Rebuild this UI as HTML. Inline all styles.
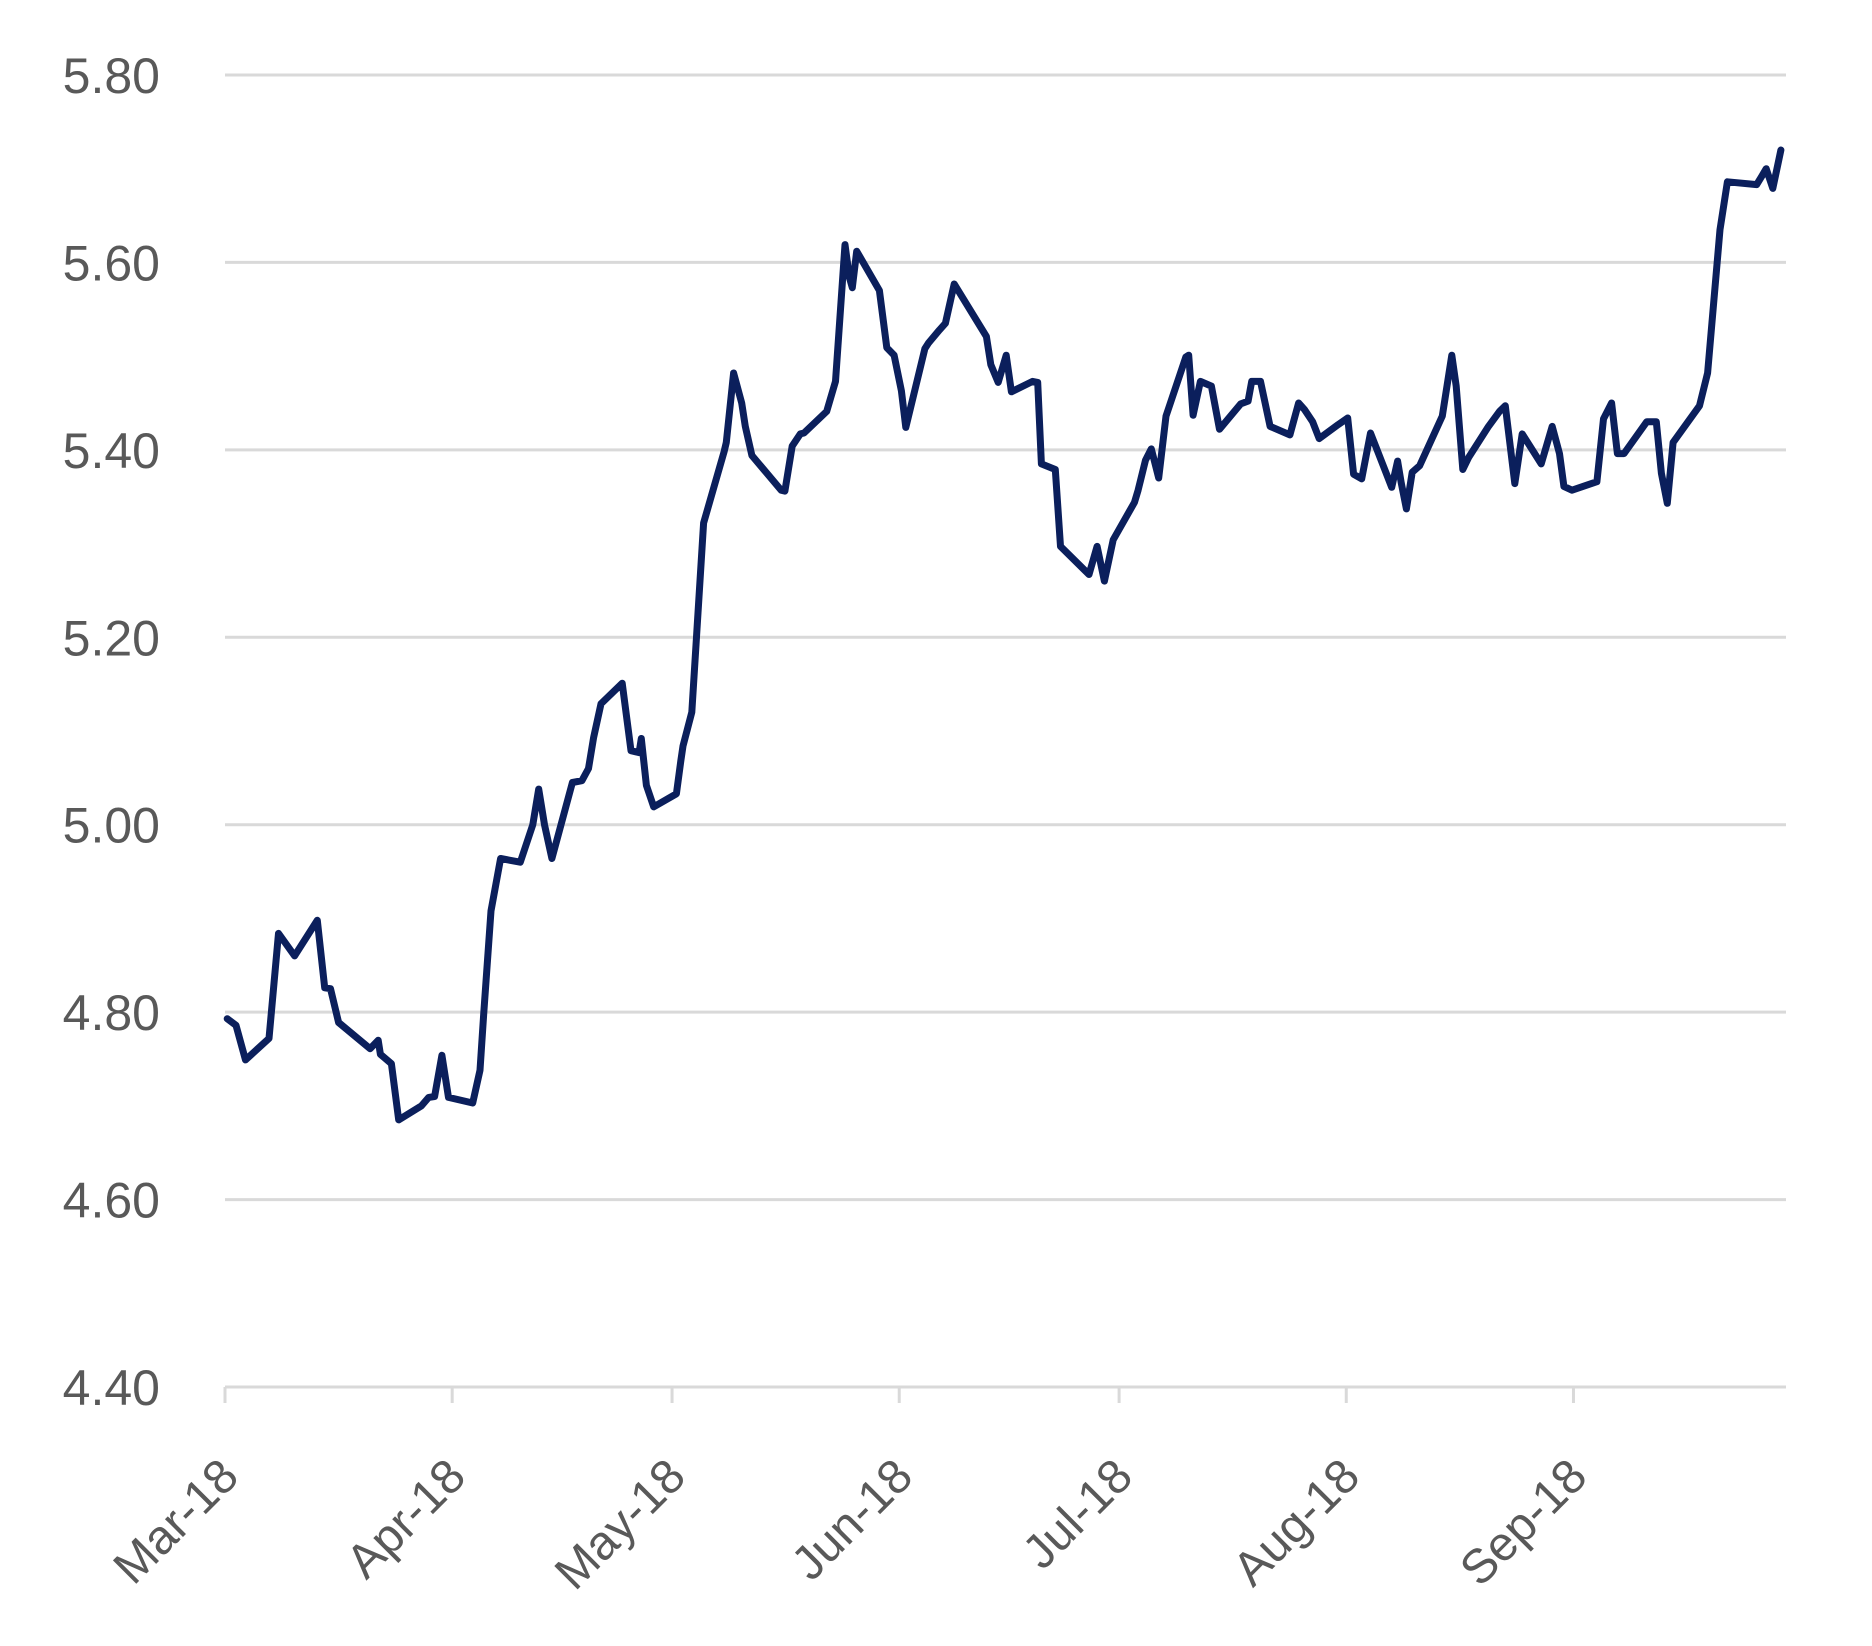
<!DOCTYPE html>
<html><head><meta charset="utf-8"><style>
html,body{margin:0;padding:0;background:#fff;}
svg{display:block;font-family:"Liberation Sans",sans-serif;}
</style></head><body>
<svg id="chart" width="1872" height="1646" viewBox="0 0 1872 1646" xmlns="http://www.w3.org/2000/svg">
<g id="grid"></g>
<g id="yaxis"></g>
<g id="xaxis"></g>
<g id="series"></g>
</svg>
<script>
const yTicks=[4.40,4.60,4.80,5.00,5.20,5.40,5.60,5.80];
const monthLabels=["Mar-18","Apr-18","May-18","Jun-18","Jul-18","Aug-18","Sep-18"];
const monthDays=[0,31,61,92,122,153,184];
const days=[0.3,1.5,2.8,6.0,6.7,7.3,9.5,12.6,13.6,14.4,15.5,19.8,20.9,21.2,22.7,23.7,26.8,27.8,28.6,29.6,30.5,33.8,34.8,35.3,36.3,37.6,40.3,42.0,42.8,43.6,44.6,47.4,48.7,49.6,50.3,51.3,54.2,55.4,56.5,56.8,57.5,58.5,61.6,62.2,62.5,63.7,65.3,68.1,68.4,69.4,70.5,71.0,71.9,75.9,76.4,77.4,78.5,79.0,82.1,83.3,84.6,85.2,85.6,86.2,89.3,90.3,91.3,92.3,92.9,95.5,96.0,97.5,98.3,99.5,99.9,103.9,104.5,105.5,106.6,107.3,110.2,110.9,111.4,113.3,114.0,117.9,119.0,120.0,121.2,124.1,124.6,125.6,126.4,127.4,128.4,131.1,131.5,132.1,133.1,134.6,135.7,138.6,139.6,140.1,141.3,142.6,145.3,146.5,147.3,148.4,149.3,151.9,153.2,154.0,155.1,156.3,158.2,159.2,160.0,160.5,161.2,162.0,163.0,166.1,167.4,168.0,168.9,169.7,172.4,173.9,174.7,176.0,177.0,179.6,181.1,182.1,182.7,183.8,187.2,188.1,189.2,190.0,190.9,194.0,195.3,196.0,196.8,197.6,201.2,202.3,204.0,205.0,209.0,209.7,210.3,211.2,212.3];
const values=[4.793,4.786,4.749,4.772,4.832,4.884,4.860,4.898,4.826,4.825,4.789,4.761,4.770,4.755,4.745,4.685,4.700,4.709,4.710,4.754,4.709,4.703,4.738,4.798,4.908,4.964,4.960,5.000,5.038,5.000,4.964,5.045,5.047,5.060,5.093,5.129,5.151,5.079,5.077,5.092,5.042,5.019,5.033,5.068,5.084,5.120,5.322,5.398,5.408,5.482,5.450,5.425,5.394,5.357,5.356,5.404,5.417,5.418,5.441,5.473,5.619,5.584,5.573,5.612,5.570,5.509,5.501,5.463,5.424,5.508,5.514,5.528,5.535,5.577,5.572,5.521,5.491,5.472,5.501,5.462,5.473,5.472,5.385,5.379,5.297,5.267,5.297,5.260,5.304,5.344,5.357,5.389,5.401,5.370,5.436,5.499,5.501,5.437,5.473,5.468,5.422,5.449,5.452,5.473,5.473,5.425,5.416,5.450,5.443,5.430,5.412,5.427,5.434,5.374,5.369,5.418,5.380,5.360,5.388,5.365,5.337,5.376,5.383,5.436,5.501,5.468,5.379,5.392,5.425,5.441,5.447,5.364,5.417,5.385,5.425,5.396,5.361,5.357,5.366,5.433,5.450,5.396,5.396,5.430,5.430,5.375,5.343,5.408,5.447,5.482,5.635,5.686,5.683,5.692,5.700,5.679,5.720];

const NS="http://www.w3.org/2000/svg";
const X0=225,X1=1786,Y0=1387,Y1=75,DMAX=213,VMIN=4.40,VMAX=5.80;
function xs(d){return X0+(d/DMAX)*(X1-X0);}
function ys(v){return Y0-(v-VMIN)/(VMAX-VMIN)*(Y0-Y1);}
function mk(tag,attrs,parent){const e=document.createElementNS(NS,tag);for(const k in attrs)e.setAttribute(k,attrs[k]);parent.appendChild(e);return e;}

const grid=document.getElementById('grid'),yax=document.getElementById('yaxis'),xax=document.getElementById('xaxis'),ser=document.getElementById('series');
yTicks.forEach(v=>{
  const l=mk('line',{x1:X0,x2:X1,y1:ys(v),y2:ys(v),stroke:'#d9d9d9','stroke-width':3},grid);
  
  
  const t=mk('text',{x:160,y:ys(v)+18,'text-anchor':'end','font-size':50,fill:'#595959'},yax);
  t.textContent=v.toFixed(2);
  
  
});
monthDays.forEach((d,i)=>{
  const x=xs(d);
  const tk=mk('line',{x1:x,x2:x,y1:Y0,y2:Y0+16,stroke:'#d9d9d9','stroke-width':3},xax);
  
  
  const t=mk('text',{x:x+16,y:Y0+92,'text-anchor':'end','font-size':48,fill:'#595959',transform:`rotate(-45 ${x+16} ${Y0+92})`},xax);
  t.textContent=monthLabels[i];
  
  
});
const pts=days.map((d,i)=>xs(d).toFixed(1)+','+ys(values[i]).toFixed(1)).join(' ');
const pl=mk('polyline',{points:pts,fill:'none',stroke:'#0b1f5c','stroke-width':7,'stroke-linejoin':'round','stroke-linecap':'round'},ser);


</script>
</body></html>
